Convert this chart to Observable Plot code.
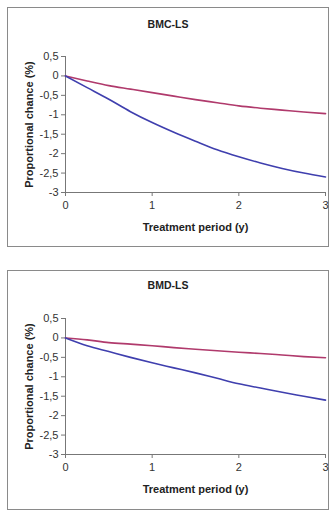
<!DOCTYPE html>
<html>
<head>
<meta charset="utf-8">
<script src="https://cdn.jsdelivr.net/npm/d3@7"></script>
<script src="https://cdn.jsdelivr.net/npm/@observablehq/plot@0.6"></script>
<style>
  html, body { margin: 0; padding: 0; background: #fff; }
  body { width: 330px; height: 513px; position: relative; overflow: hidden; font-family: "Liberation Sans", Arial, sans-serif; }
  .panel { position: absolute; left: 7px; width: 322px; height: 240px; border: 1px solid #8a8a8a; box-sizing: border-box; }
  .title { position: absolute; width: 322px; left: 7px; text-align: center; font-weight: bold; font-size: 10.5px; color: #222; }
  .chart { position: absolute; left: 0; }
</style>
</head>
<body>
<div class="panel" style="top:7px"></div>
<div class="panel" style="top:270px"></div>
<div class="title" style="top:18px">BMC-LS</div>
<div class="title" style="top:279px">BMD-LS</div>
<div id="c1" class="chart" style="top:0px"></div>
<div id="c2" class="chart" style="top:256px"></div>
<script>
const years = [0, 0.25, 0.5, 0.75, 1, 1.25, 1.5, 1.75, 2, 2.25, 2.5, 2.75, 3];
const bmcBlue = [0, -0.30, -0.60, -0.92, -1.20, -1.45, -1.68, -1.90, -2.08, -2.24, -2.38, -2.50, -2.60];
const bmcRed  = [0, -0.13, -0.25, -0.34, -0.43, -0.52, -0.61, -0.69, -0.77, -0.83, -0.88, -0.93, -0.97];
const bmdBlue = [0, -0.20, -0.35, -0.50, -0.64, -0.77, -0.90, -1.04, -1.18, -1.29, -1.40, -1.50, -1.60];
const bmdRed  = [0, -0.05, -0.12, -0.16, -0.20, -0.25, -0.29, -0.33, -0.37, -0.40, -0.44, -0.48, -0.51];
const xTicks = [0, 1, 2, 3];
const yTicks = [0.5, 0, -0.5, -1, -1.5, -2, -2.5, -3];
const xLabel = "Treatment period (y)";
const yLabel = "Proportional chance (%)";

const fmt = d => String(d).replace(".", ",");

function chart(blue, red, height, mt, mb) {
  const blueData = years.map((x, i) => ({x, y: blue[i]}));
  const redData = years.map((x, i) => ({x, y: red[i]}));
  return Plot.plot({
    width: 330,
    height,
    marginLeft: 65,
    marginRight: 5,
    marginTop: mt,
    marginBottom: mb,
    style: {fontFamily: "'Liberation Sans', Arial, sans-serif", fontSize: "11px", color: "#333", background: "transparent"},
    x: {domain: [0, 3]},
    y: {domain: [-3, 0.5]},
    marks: [
      Plot.axisX({ticks: xTicks, tickFormat: fmt, tickSize: 4, tickPadding: 5, stroke: "#777",
        label: xLabel, labelAnchor: "center", labelArrow: "none", labelOffset: 38, fontWeight: "normal"}),
      Plot.axisY({ticks: yTicks, tickFormat: fmt, tickSize: 4, tickPadding: 3, stroke: "#777",
        label: yLabel, labelAnchor: "center", labelArrow: "none", labelOffset: 40}),
      Plot.ruleX([0], {stroke: "#777"}),
      Plot.ruleY([-3], {stroke: "#777"}),
      Plot.line(redData, {x: "x", y: "y", stroke: "#b03a6c", strokeWidth: 1.6, curve: "monotone-x"}),
      Plot.line(blueData, {x: "x", y: "y", stroke: "#3f3fae", strokeWidth: 1.6, curve: "monotone-x"})
    ]
  });
}

const p1 = chart(bmcBlue, bmcRed, 256, 56, 64);
const p2 = chart(bmdBlue, bmdRed, 257, 62, 59);
document.getElementById("c1").appendChild(p1);
document.getElementById("c2").appendChild(p2);
for (const svg of [p1, p2]) {
  svg.querySelectorAll("g[aria-label='x-axis label'] text, g[aria-label='y-axis label'] text").forEach(t => {
    t.setAttribute("font-weight", "bold");
    t.style.fontWeight = "bold";
    t.setAttribute("fill", "#222");
  });
}
</script>
</body>
</html>
